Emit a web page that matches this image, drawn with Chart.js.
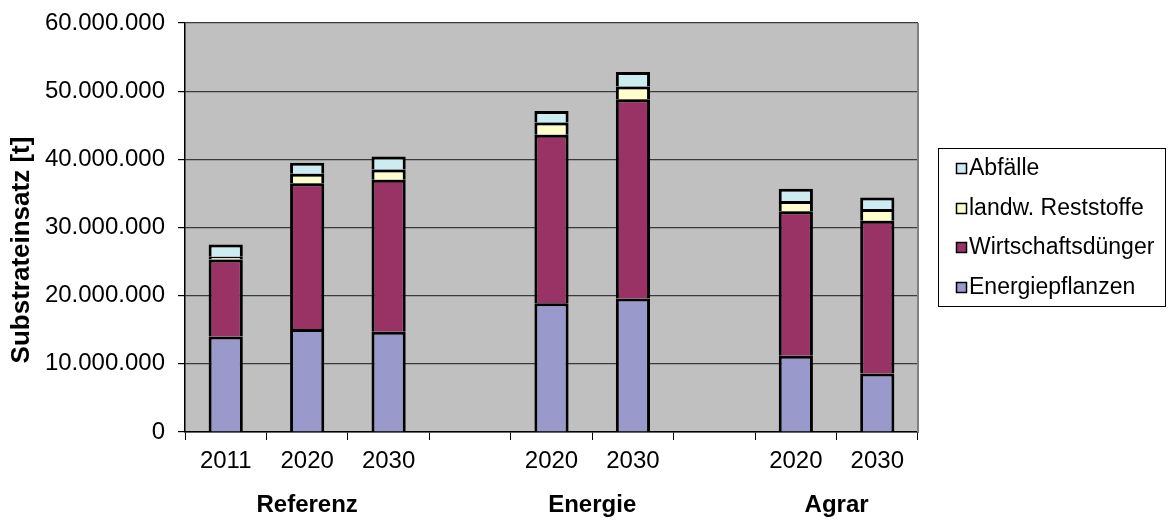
<!DOCTYPE html>
<html>
<head>
<meta charset="utf-8">
<script src="https://cdn.jsdelivr.net/npm/chart.js@4.4.1/dist/chart.umd.min.js"></script>
<style>
  html, body { margin: 0; padding: 0; background: #ffffff; }
  #wrap { width: 1168px; height: 520px; position: relative; }
</style>
</head>
<body>
<div id="wrap"><canvas id="c" width="1168" height="520"></canvas></div>
<script>
// ---- data ----
const categories = ['2011', '2020', '2030', '', '2020', '2030', '', '2020', '2030'];
const groupLabels = ['Referenz', 'Energie', 'Agrar'];
const groupFirst = [0, 4, 7];
const groupLast = [2, 5, 8];
const seriesNames = ['Energiepflanzen', 'Wirtschaftsdünger', 'landw. Reststoffe', 'Abfälle'];
const energiepflanzen = [14000000, 15100000, 14700000, null, 18900000, 19600000, null, 11200000, 8600000];
const wirtschaftsduenger = [11300000, 21400000, 22300000, null, 24700000, 29200000, null, 21200000, 22400000];
const reststoffe = [400000, 1400000, 1500000, null, 1800000, 1900000, null, 1500000, 1700000];
const abfaelle = [1800000, 1600000, 1900000, null, 1700000, 2100000, null, 1800000, 1700000];
const yTickLabels = ['0', '10.000.000', '20.000.000', '30.000.000', '40.000.000', '50.000.000', '60.000.000'];
const yTitle = 'Substrateinsatz [t]';

const FONT = "'Liberation Sans', Arial, sans-serif";
const colors = ['#9999CC', '#993366', '#FFFFCC', '#CCECF2'];

const plotBg = {
  id: 'plotBg',
  beforeDraw(chart) {
    const { ctx, chartArea: a } = chart;
    ctx.save();
    ctx.fillStyle = '#C0C0C0';
    ctx.fillRect(a.left, a.top, a.right - a.left, a.bottom - a.top);
    ctx.restore();
  },
  afterDraw(chart) {
    const { ctx, chartArea: a } = chart;
    ctx.save();
    // right border of plot area
    ctx.strokeStyle = '#808080';
    ctx.lineWidth = 2;
    ctx.beginPath();
    ctx.moveTo(a.right, a.top);
    ctx.lineTo(a.right, a.bottom);
    ctx.stroke();
    // group labels
    const xs = chart.scales.x;
    ctx.fillStyle = '#000';
    ctx.font = 'bold 24px ' + FONT;
    ctx.textAlign = 'center';
    ctx.textBaseline = 'middle';
    groupLabels.forEach((g, i) => {
      const cx = (xs.getPixelForValue(groupFirst[i]) + xs.getPixelForValue(groupLast[i])) / 2;
      ctx.fillText(g, cx, 505);
    });
    // y title
    ctx.save();
    ctx.translate(22, 250);
    ctx.rotate(-Math.PI / 2);
    ctx.font = 'bold 26px ' + FONT;
    ctx.fillText(yTitle, 0, 0);
    ctx.restore();
    // legend
    const lx = 938, ly = 148, lw = 227, lh = 158;
    ctx.fillStyle = '#fff';
    ctx.fillRect(lx, ly, lw, lh);
    ctx.strokeStyle = '#000';
    ctx.lineWidth = 1;
    ctx.strokeRect(lx + 0.5, ly + 0.5, lw, lh);
    const ys = [168, 208, 247, 287];
    const order = [3, 2, 1, 0];
    ctx.font = '23px ' + FONT;
    ctx.textAlign = 'left';
    order.forEach((di, k) => {
      const ds = chart.data.datasets[di];
      ctx.fillStyle = ds.backgroundColor;
      ctx.fillRect(956, ys[k] - 5, 11, 11);
      ctx.strokeStyle = '#000';
      ctx.lineWidth = 1.5;
      ctx.strokeRect(956.5, ys[k] - 4.5, 10, 10);
      ctx.fillStyle = '#000';
      ctx.fillText(ds.label, 969, ys[k] + 1);
    });
    ctx.restore();
  }
};

const datasets = [energiepflanzen, wirtschaftsduenger, reststoffe, abfaelle].map((d, i) => ({
  label: seriesNames[i],
  data: d,
  backgroundColor: colors[i],
  borderColor: '#000',
  borderWidth: 3,
  barPercentage: 0.42,
  categoryPercentage: 1.0
}));

new Chart(document.getElementById('c'), {
  type: 'bar',
  data: { labels: categories, datasets },
  options: {
    responsive: false,
    animation: false,
    devicePixelRatio: 1,
    layout: { padding: { top: 23, right: 250, left: 0, bottom: 0 } },
    plugins: { legend: { display: false }, tooltip: { enabled: false } },
    scales: {
      x: {
        stacked: true,
        grid: { drawOnChartArea: false, drawTicks: true, tickLength: 8, color: '#000', offset: true },
        border: { color: '#000', width: 1.5 },
        ticks: { color: '#000', font: { family: FONT, size: 24 }, padding: 7, maxRotation: 0, autoSkip: false },
        afterFit(s) { s.height = 88; s.paddingLeft = 0; s.paddingRight = 0; }
      },
      y: {
        stacked: true,
        min: 0,
        max: 60000000,
        grid: { color: '#3a3a3a', lineWidth: 1.2, drawTicks: true, tickLength: 7, tickColor: '#000' },
        border: { color: '#000', width: 1.5 },
        ticks: {
          stepSize: 10000000,
          color: '#000',
          padding: 13,
          font: { family: FONT, size: 24 },
          callback: (v) => yTickLabels[Math.round(v / 10000000)]
        },
        afterFit(s) { s.width = 185; s.paddingTop = 0; s.paddingBottom = 0; }
      }
    }
  },
  plugins: [plotBg]
});
</script>
</body>
</html>
